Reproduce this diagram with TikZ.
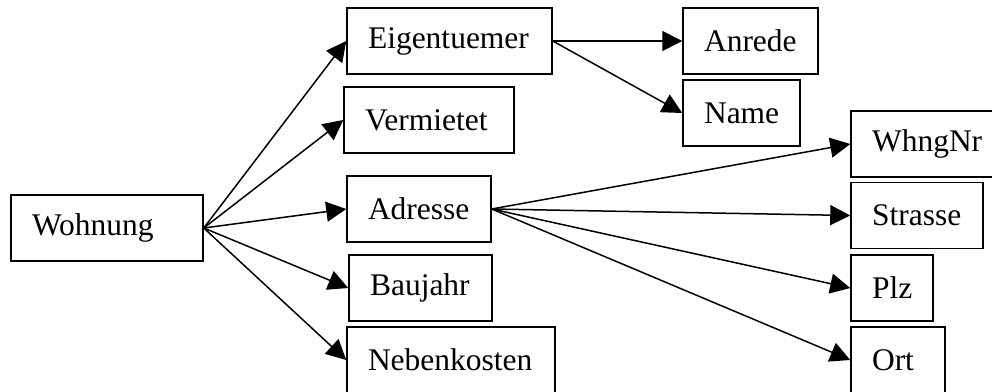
\documentclass[tikz,border=0pt]{standalone}
\usepackage{fontspec}
\setmainfont{Liberation Serif}
\usetikzlibrary{arrows.meta}

\tikzset{
  feld/.style={draw, line width=1.5pt, minimum height=66pt, inner xsep=21pt, inner ysep=0pt,
    align=left, font=\fontsize{31.5}{38}\selectfont},
  pfeil/.style={line width=1.5pt, -{Triangle[length=20pt,width=20pt]}}
}

\begin{document}
\begin{tikzpicture}[x=1pt,y=-1pt] % 1pt = 1 Pixel, y nach unten
\useasboundingbox (0,0) rectangle (992,391);

%SPALTE NR. 0 (von links)
\node [feld, text width=150pt] (wohnung) at (107,228) {Wohnung};

%SPALTE NR. 1 (von links)
\node [feld, text width=163pt] (eigentuemer) at (449.5,41) {Eigentuemer};
\node [feld, text width=128pt] (vermietet) at (429,120) {Vermietet};
\node [feld, text width=102pt] (adresse) at (419,209) {Adresse};
\node [feld, text width=101pt] (baujahr) at (420.5,288) {Baujahr};
\node [feld, text width=166pt] (nebenkosten) at (451,360) {Nebenkosten};

%SPALTE NR. 2 (von links)
\node [feld, text width=93pt] (anrede) at (750.5,41) {Anrede};
\node [feld, text width=75pt] (name) at (741.5,113) {Name};

%SPALTE NR. 3 (von links)
\node [feld, text width=111pt] (whngnr) at (927.5,144) {WhngNr};
\node [feld, text width=90pt] (strasse) at (917,215.5) {Strasse};
\node [feld, text width=40pt] (plz) at (892,288) {Plz};
\node [feld, text width=52pt] (ort) at (898,360) {Ort};

%PFEILE
\foreach \ziel in {eigentuemer,vermietet,adresse,baujahr,nebenkosten}
  \draw [pfeil] (wohnung.east) -- (\ziel.west);
\foreach \ziel in {anrede,name}
  \draw [pfeil] (eigentuemer.east) -- (\ziel.west);
\foreach \ziel in {whngnr,strasse,plz,ort}
  \draw [pfeil] (adresse.east) -- (\ziel.west);

\end{tikzpicture}
\end{document}
